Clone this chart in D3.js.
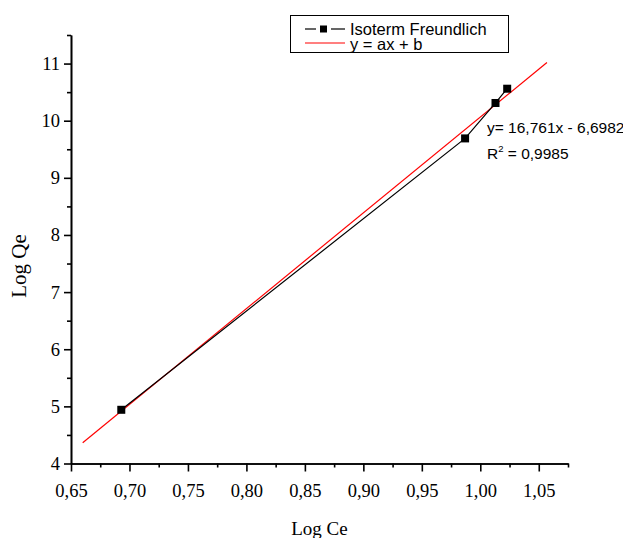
<!DOCTYPE html>
<html>
<head>
<meta charset="utf-8">
<script src="https://cdn.jsdelivr.net/npm/d3@7"></script>
<style>
  body { margin: 0; background: #fff; }
  .axis path, .axis line { stroke: #000; stroke-width: 1.6; }
  .axis text { font-family: "Liberation Serif", "Times New Roman", serif; font-size: 18.5px; fill: #000; }
</style>
</head>
<body>
<div id="chart"></div>
<script>
// data
var logCe = [0.693, 0.987, 1.013, 1.023];
var logQe = [4.94, 9.69, 10.31, 10.56];

// linear fit y = a*x + b
var fitA = 16.761, fitB = -6.6982;
var fitX = [0.66, 1.057];

var xMajor = [0.65, 0.70, 0.75, 0.80, 0.85, 0.90, 0.95, 1.00, 1.05];
var xMinor = [0.675, 0.725, 0.775, 0.825, 0.875, 0.925, 0.975, 1.025, 1.075];
var yMajor = [4, 5, 6, 7, 8, 9, 10, 11];
var yMinor = [4.5, 5.5, 6.5, 7.5, 8.5, 9.5, 10.5, 11.5];

var legendLabels = ["Isoterm Freundlich", "y = ax + b"];
var eqText = "y= 16,761x - 6,6982";
var r2Text = "0,9985";

var width = 623, height = 538;

var svg = d3.select("#chart").append("svg")
    .attr("width", width)
    .attr("height", height);

var x = d3.scaleLinear().domain([0.65, 1.075]).range([71, 568]);
var y = d3.scaleLinear().domain([4, 11.5]).range([463.5, 35]);

var comma = function(d) { return d3.format(".2f")(d).replace(".", ","); };

// x axis - minor ticks first, then major with labels
svg.append("g")
    .attr("class", "axis")
    .attr("transform", "translate(0," + y(4) + ")")
    .call(d3.axisBottom(x).tickValues(xMinor).tickSize(4).tickSizeOuter(0).tickFormat(""));
svg.append("g")
    .attr("class", "axis")
    .attr("transform", "translate(0," + y(4) + ")")
    .call(d3.axisBottom(x).tickValues(xMajor).tickSize(8).tickSizeOuter(0).tickPadding(12).tickFormat(comma));

// y axis
svg.append("g")
    .attr("class", "axis")
    .attr("transform", "translate(" + x(0.65) + ",0)")
    .call(d3.axisLeft(y).tickValues(yMinor).tickSize(4).tickSizeOuter(0).tickFormat(""));
svg.append("g")
    .attr("class", "axis")
    .attr("transform", "translate(" + x(0.65) + ",0)")
    .call(d3.axisLeft(y).tickValues(yMajor).tickSize(7).tickSizeOuter(0).tickPadding(4).tickFormat(d3.format("d")));

// axis titles
svg.append("text")
    .attr("x", (x(0.65) + x(1.075)) / 2)
    .attr("y", 535)
    .attr("text-anchor", "middle")
    .style("font-family", "Liberation Serif, serif")
    .style("font-size", "19px")
    .text("Log Ce");

svg.append("text")
    .attr("transform", "translate(26,266) rotate(-90)")
    .attr("text-anchor", "middle")
    .style("font-family", "Liberation Serif, serif")
    .style("font-size", "21px")
    .text("Log Qe");

// fitted line (red)
var fitLine = d3.line()
    .x(function(d) { return x(d); })
    .y(function(d) { return y(fitA * d + fitB); });

svg.append("path")
    .datum(fitX)
    .attr("d", fitLine)
    .attr("fill", "none")
    .attr("stroke", "#ff0000")
    .attr("stroke-width", 1.2);

// data line (black)
var pts = logCe.map(function(d, i) { return [d, logQe[i]]; });
svg.append("path")
    .datum(pts)
    .attr("d", d3.line().x(function(d) { return x(d[0]); }).y(function(d) { return y(d[1]); }))
    .attr("fill", "none")
    .attr("stroke", "#000")
    .attr("stroke-width", 1.2);

svg.selectAll(".dot")
    .data(pts)
  .enter().append("rect")
    .attr("class", "dot")
    .attr("x", function(d) { return x(d[0]) - 4; })
    .attr("y", function(d) { return y(d[1]) - 4; })
    .attr("width", 8)
    .attr("height", 8)
    .attr("fill", "#000");

// equation text
svg.append("text")
    .attr("x", 487)
    .attr("y", 133)
    .style("font-family", "Liberation Sans, Arial, sans-serif")
    .style("font-size", "15.5px")
    .text(eqText);

var r2 = svg.append("text")
    .attr("x", 487)
    .attr("y", 159)
    .style("font-family", "Liberation Sans, Arial, sans-serif")
    .style("font-size", "15.5px");
r2.append("tspan").text("R");
r2.append("tspan").attr("dy", -7).style("font-size", "9.5px").text("2");
r2.append("tspan").attr("dy", 7).text(" = " + r2Text);

// legend
var legend = svg.append("g");
legend.append("rect")
    .attr("x", 290.5).attr("y", 15.5)
    .attr("width", 218).attr("height", 37)
    .attr("fill", "#fff")
    .attr("stroke", "#000")
    .attr("stroke-width", 1);

legend.append("line")
    .attr("x1", 305).attr("x2", 316).attr("y1", 29).attr("y2", 29)
    .attr("stroke", "#000").attr("stroke-width", 1.2);
legend.append("line")
    .attr("x1", 331).attr("x2", 345).attr("y1", 29).attr("y2", 29)
    .attr("stroke", "#000").attr("stroke-width", 1.2);
legend.append("rect")
    .attr("x", 320).attr("y", 25.5).attr("width", 7).attr("height", 7)
    .attr("fill", "#000");
legend.append("line")
    .attr("x1", 305).attr("x2", 345).attr("y1", 43).attr("y2", 43)
    .attr("stroke", "#ff0000").attr("stroke-width", 1.2);

legend.selectAll(".lab")
    .data(legendLabels)
  .enter().append("text")
    .attr("x", 350)
    .attr("y", function(d, i) { return 34.5 + i * 15; })
    .style("font-family", "Liberation Sans, Arial, sans-serif")
    .style("font-size", "16.5px")
    .text(function(d) { return d; });
</script>
</body>
</html>
